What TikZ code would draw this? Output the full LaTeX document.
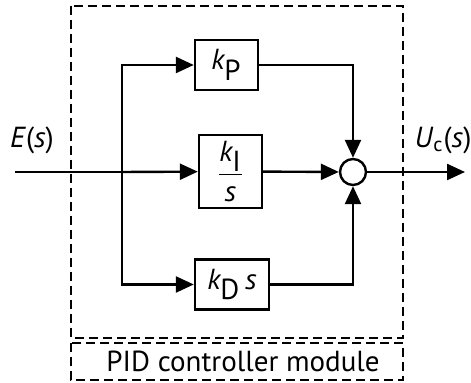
\documentclass[tikz,border=0pt]{standalone}
\usepackage{fontspec}
\setmainfont{PT Sans}
\usetikzlibrary{arrows.meta,positioning}

\begin{document}
\begin{tikzpicture}[x=0.5pt,y=-0.5pt,font=\fontsize{14.5}{17}\selectfont,line width=1.2pt,
    block/.style={draw,minimum width=31.5pt,minimum height=25pt,inner sep=2pt},
    sig/.style={-{Triangle[length=9pt,width=8pt]}},
    module/.style={draw,line width=1.1pt,dash pattern=on 4.5pt off 2.5pt}]
    \useasboundingbox (0,0) rectangle (471,383);
    % dashed module frame
    \draw[module] (71,6) rectangle (403,338);
    \draw[module] (71,343) rectangle (403,380);
    \node (label) at (243,361.5) {PID controller module};
    % blocks
    \node[block] (kP) at (226.5,65) {$\textit{k}_\textrm{P}$};
    \node[block,minimum height=36.5pt] (kI) at (230.5,171.5) {$\displaystyle\frac{\textit{k}_\textrm{I}}{\textit{s}}$};
    \node[block,minimum width=37pt] (kD) at (232,284.5) {$\textit{k}_\textrm{D}\,\textit{s}$};
    \node[draw,circle,minimum size=13pt,inner sep=0pt] (sum) at (353,172) {};
    % signals
    \coordinate (in) at (15,172);
    \coordinate (split) at (122,172);
    \coordinate (out) at (465,172);
    \node (E) at (32,140) {\textit{E}(\textit{s})};
    \node (Uc) at (443,140) {\textit{U}\textsubscript{c}(\textit{s})};
    \draw (in) -- (split);
    \draw[sig] (split) -- (kI);
    \draw[sig] (split) |- (kP);
    \draw[sig] (split) |- (kD);
    \draw[sig] (kP) -| (sum);
    \draw[sig] (kI) -- (sum);
    \draw[sig] (kD) -| (sum);
    \draw[sig] (sum) -- (out);
\end{tikzpicture}
\end{document}
